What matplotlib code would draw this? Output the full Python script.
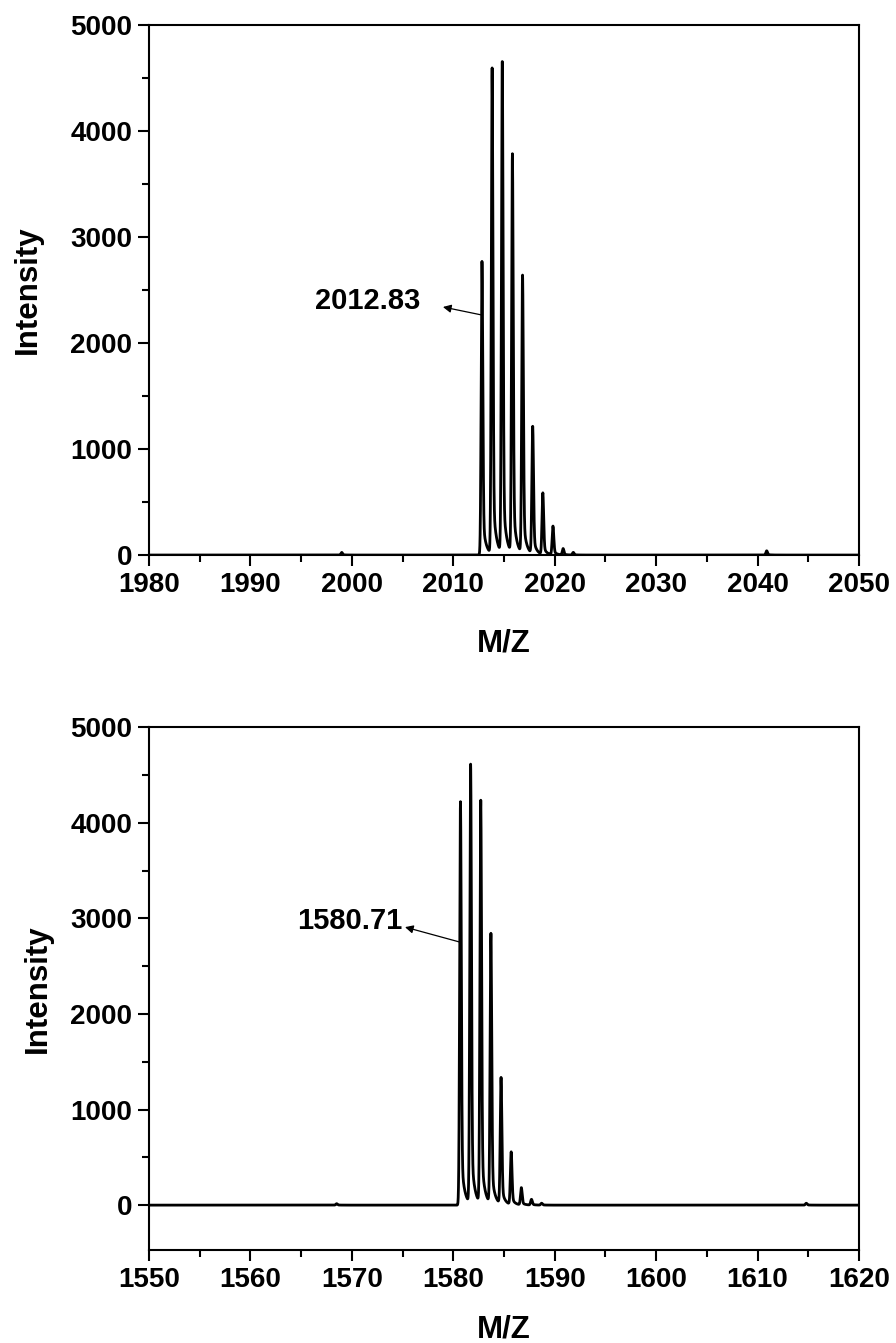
import numpy as np
import matplotlib
matplotlib.use("Agg")
import matplotlib.pyplot as plt
from matplotlib.ticker import MultipleLocator

plt.rcParams['font.family'] = ['Liberation Sans', 'DejaVu Sans']
plt.rcParams['font.weight'] = 'bold'

# ---- data ----
top_peak_mz = [2012.83, 2013.83, 2014.83, 2015.83, 2016.83, 2017.83, 2018.83, 2019.83, 2020.83, 2021.83, 2040.9, 1999.0]
top_peak_int = [2770, 4580, 4630, 3760, 2620, 1200, 580, 270, 60, 25, 40, 25]
top_xlim = (1980, 2050)
top_ylim = (0, 5000)
top_label = "2012.83"

bot_peak_mz = [1580.71, 1581.71, 1582.71, 1583.71, 1584.71, 1585.71, 1586.71, 1587.71, 1588.71, 1614.8, 1568.5]
bot_peak_int = [4220, 4590, 4210, 2820, 1320, 550, 180, 60, 20, 20, 15]
bot_xlim = (1550, 1620)
bot_ylim = (-470, 5000)
bot_label = "1580.71"

xticks_top = [1980, 1990, 2000, 2010, 2020, 2030, 2040, 2050]
xticks_bot = [1550, 1560, 1570, 1580, 1590, 1600, 1610, 1620]
yticks = [0, 1000, 2000, 3000, 4000, 5000]


def spectrum(xlim, mz, inten, sigma=0.08, tail=0.15, tau=0.3):
    x = np.linspace(xlim[0], xlim[1], 14001)
    y = np.zeros_like(x)
    for m, h in zip(mz, inten):
        dx = x - m
        g = np.exp(-dx ** 2 / (2 * sigma ** 2))
        right = (1 - tail) * g + tail * np.exp(-np.clip(dx, 0, None) / tau)
        y += h * np.where(dx < 0, g, right)
    return x, y


fig = plt.figure(figsize=(8.96, 13.43), dpi=100)
ax1 = fig.add_axes([0.1663, 0.5867, 0.7924, 0.3947])
ax2 = fig.add_axes([0.1663, 0.0692, 0.7924, 0.3894])

tick_fs = 20
label_fs = 22.5
ann_fs = 21

for ax, xlim, ylim, mz, inten, xt in [
    (ax1, top_xlim, top_ylim, top_peak_mz, top_peak_int, xticks_top),
    (ax2, bot_xlim, bot_ylim, bot_peak_mz, bot_peak_int, xticks_bot),
]:
    x, y = spectrum(xlim, mz, inten)
    ax.plot(x, y, color='black', lw=2.0)
    ax.set_xlim(*xlim)
    ax.set_ylim(*ylim)
    ax.set_xticks(xt)
    ax.set_yticks(yticks)
    ax.xaxis.set_minor_locator(MultipleLocator(5))
    ax.yaxis.set_minor_locator(MultipleLocator(500))
    ax.tick_params(which='major', direction='out', length=8, width=1.5, labelsize=tick_fs, pad=4)
    ax.tick_params(which='minor', direction='out', length=5, width=1.5)
    ax.tick_params(top=False, right=False)
    for s in ax.spines.values():
        s.set_linewidth(1.5)
    for lab in ax.get_xticklabels() + ax.get_yticklabels():
        lab.set_fontweight('bold')
    ax.set_xlabel("M/Z", fontsize=label_fs, fontweight='bold', va='center')
    ax.set_ylabel("Intensity", fontsize=label_fs, fontweight='bold', va='center')

ax1.xaxis.set_label_coords(0.5, -0.166)
ax1.yaxis.set_label_coords(-0.170, 0.5)
ax2.xaxis.set_label_coords(0.5, -0.151)
ax2.yaxis.set_label_coords(-0.156, 0.5)

# annotation of the first isotope peak (top)
ax1.text(2006.7, 2396, top_label, fontsize=ann_fs, fontweight='bold', ha='right', va='center')
ax1.annotate('', xy=(2008.98, 2340), xytext=(2012.83, 2264),
             arrowprops=dict(arrowstyle='-|>', color='black', lw=0.9, mutation_scale=12,
                             shrinkA=0, shrinkB=0))
# annotation of the first isotope peak (bottom)
ax2.text(1574.94, 2970, bot_label, fontsize=ann_fs, fontweight='bold', ha='right', va='center')
ax2.annotate('', xy=(1575.24, 2908), xytext=(1580.66, 2751),
             arrowprops=dict(arrowstyle='-|>', color='black', lw=0.9, mutation_scale=12,
                             shrinkA=0, shrinkB=0))

fig.savefig("out.png", dpi=100)
